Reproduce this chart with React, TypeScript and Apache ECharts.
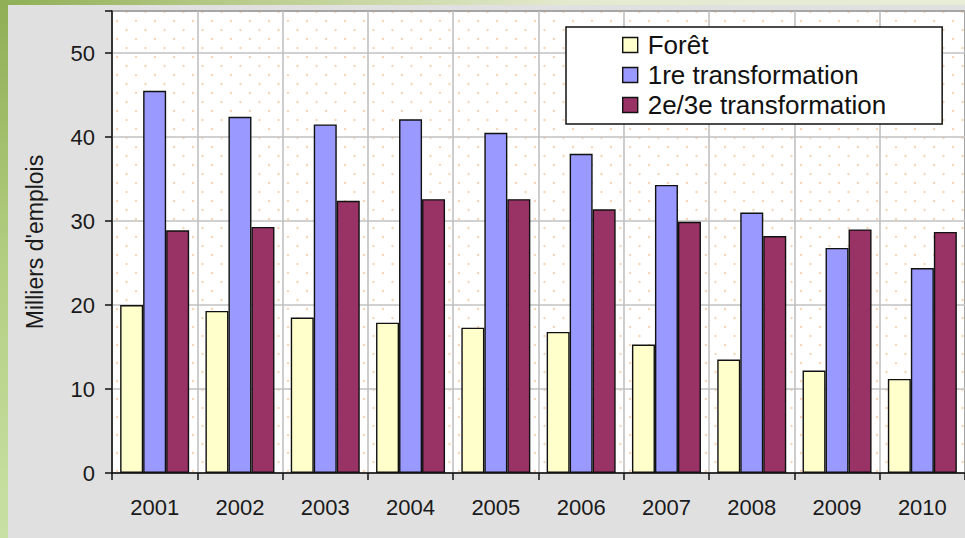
import React, { useEffect, useRef } from "react";
import * as echarts from "echarts";

const years = ["2001", "2002", "2003", "2004", "2005", "2006", "2007", "2008", "2009", "2010"];
const foret = [20.0, 19.3, 18.5, 17.9, 17.3, 16.8, 15.3, 13.5, 12.2, 11.2];
const premiere = [45.5, 42.4, 41.5, 42.1, 40.5, 38.0, 34.3, 31.0, 26.8, 24.4];
const deuxieme = [28.9, 29.3, 32.4, 32.6, 32.6, 31.4, 29.9, 28.2, 29.0, 28.7];
const seriesNames = ["Forêt", "1re transformation", "2e/3e transformation"];
const yTicks = [0, 10, 20, 30, 40, 50];

const FONT = "'Liberation Sans', Arial, sans-serif";

function makeDots(): HTMLCanvasElement {
  const c = document.createElement("canvas");
  c.width = 19;
  c.height = 18;
  const ctx = c.getContext("2d")!;
  ctx.fillStyle = "#ffffff";
  ctx.fillRect(0, 0, 19, 18);
  ctx.fillStyle = "#f6d6ba";
  ctx.beginPath();
  ctx.arc(3, 3, 1.2, 0, Math.PI * 2);
  ctx.fill();
  ctx.beginPath();
  ctx.arc(12.5, 12, 1.2, 0, Math.PI * 2);
  ctx.fill();
  return c;
}

export default function App() {
  const ref = useRef<HTMLDivElement>(null);
  useEffect(() => {
    document.body.style.margin = "0";
    const chart = echarts.init(ref.current!, null, { renderer: "svg" });
    const border = { borderColor: "#111111", borderWidth: 1.4 };
    chart.setOption({
      animation: false,
      backgroundColor: "#e0e0e0",
      textStyle: { fontFamily: FONT },
      graphic: [
        {
          type: "rect",
          shape: { x: 0, y: 0, width: 8, height: 538 },
          style: {
            fill: new echarts.graphic.LinearGradient(0, 0, 0, 1, [
              { offset: 0, color: "#8fae55" },
              { offset: 0.5, color: "#b3cf82" },
              { offset: 1, color: "#c9e0a4" },
            ]),
          },
          z: -1,
        },
        {
          type: "rect",
          shape: { x: 0, y: 0, width: 965, height: 5 },
          style: {
            fill: new echarts.graphic.LinearGradient(0, 0, 1, 0, [
              { offset: 0, color: "#8fae55" },
              { offset: 0.25, color: "#b9cc8c" },
              { offset: 0.6, color: "#e4ead0" },
              { offset: 1, color: "#e8edd6" },
            ]),
          },
          z: -1,
        },
      ],
      legend: {
        orient: "vertical",
        left: 566,
        top: 27,
        data: seriesNames,
        itemWidth: 15,
        itemHeight: 15,
        itemGap: 4,
        padding: [5, 56, 6, 56],
        backgroundColor: "#ffffff",
        borderColor: "#111111",
        borderWidth: 1.5,
        borderRadius: 0,
        icon: "rect",
        itemStyle: border,
        textStyle: {
          fontFamily: FONT,
          fontSize: 26,
          lineHeight: 26,
          color: "#111111",
          padding: [0, 0, 0, 5],
        },
      },
      grid: {
        left: 112,
        top: 11,
        width: 854,
        height: 462,
        show: true,
        backgroundColor: { image: makeDots(), repeat: "repeat" },
        borderColor: "#222222",
        borderWidth: 1.5,
      },
      xAxis: {
        type: "category",
        data: years,
        axisLine: { lineStyle: { color: "#111111", width: 1.5 } },
        axisTick: { show: true, length: 7, lineStyle: { color: "#111111", width: 1.5 } },
        axisLabel: { fontSize: 22, color: "#1a1a1a", margin: 23, fontFamily: FONT },
        splitLine: { show: true, lineStyle: { color: "#bdbdbd", width: 1.5 } },
      },
      yAxis: {
        type: "value",
        min: 0,
        max: 55,
        interval: 10,
        name: "Milliers d'emplois",
        nameLocation: "middle",
        nameGap: 66,
        nameTextStyle: { fontSize: 23, color: "#1a1a1a", fontFamily: FONT },
        axisLine: { show: true, lineStyle: { color: "#111111", width: 1.5 } },
        axisTick: { show: true, length: 7, lineStyle: { color: "#111111", width: 1.5 } },
        axisLabel: {
          fontSize: 22,
          color: "#1a1a1a",
          margin: 17,
          fontFamily: FONT,
          formatter: (v: number) => (yTicks.includes(v) ? String(v) : ""),
        },
        splitLine: { show: true, lineStyle: { color: "#c2c2c2", width: 1.5 } },
      },
      series: [
        { name: seriesNames[0], type: "bar", data: foret, barWidth: 23, barGap: "0%", itemStyle: { color: "#ffffcc", ...border } },
        { name: seriesNames[1], type: "bar", data: premiere, barWidth: 23, barGap: "0%", itemStyle: { color: "#9999ff", ...border } },
        { name: seriesNames[2], type: "bar", data: deuxieme, barWidth: 23, barGap: "0%", itemStyle: { color: "#993366", ...border } },
      ],
    });
    return () => chart.dispose();
  }, []);
  return (
    <div
      ref={ref}
      style={{ position: "absolute", left: 0, top: 0, width: 965, height: 538 }}
    />
  );
}
